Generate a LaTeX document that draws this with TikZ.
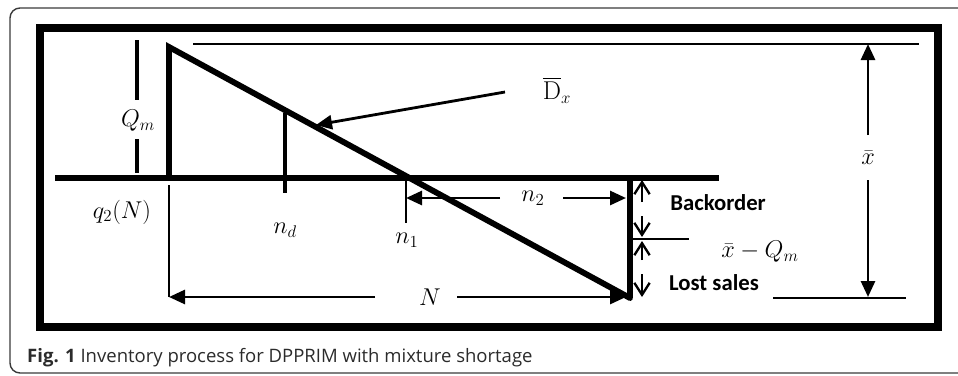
\documentclass[tikz,border=0pt]{standalone}
\usepackage{fontspec}
\usepackage{amsmath}
\usetikzlibrary{arrows.meta}
\newfontfamily\capfont{Open Sans}
\newfontfamily\tagfont{Carlito}
\definecolor{FrameGray}{HTML}{3A3A3A}
\definecolor{CapText}{HTML}{2B2B2B}

\begin{document}
\begin{tikzpicture}[
    x=0.3mm, y=-0.3mm,
    frame/.style={draw=FrameGray, line width=1.2pt, rounded corners=3mm},
    box/.style={line width=6pt},
    heavy/.style={line width=5pt},
    thin/.style={line width=1.8pt},
    arrow/.style={-{Triangle[length=4.8mm,width=4.2mm]}, line width=2.4pt},
    barb/.style={-{Straight Barb[length=3.6mm,width=4.6mm]}, line width=2pt},
    lbl/.style={font=\fontsize{22}{26}\selectfont, inner sep=2pt},
    tag/.style={font=\tagfont\bfseries\fontsize{19.4}{22}\selectfont, inner sep=0pt}
  ]
    \useasboundingbox (0,0) rectangle (958,375);
    \clip (0,0) rectangle (958,375);

    % frame and caption
    \draw[frame] (1000,8) -- (10,8) -- (10,373) -- (1000,373);
    \draw[box] (40,28) rectangle (938,327);
    \node[anchor=west, inner sep=0pt, text=CapText, font=\capfont\fontsize{15.8}{18}\selectfont] (cap) at (27,358) {\textbf{Fig. 1} Inventory process for DPPRIM with mixture shortage};

    % inventory curve
    \coordinate (peak) at (169,47);
    \coordinate (orig) at (169,178);
    \coordinate (axisL) at (55,178);
    \coordinate (axisR) at (719,178);
    \coordinate (low) at (630,298);
    \coordinate (lowtop) at (630,178);
    \draw[heavy] (axisL) -- (axisR);
    \draw[heavy, line cap=round] (orig) -- (peak) -- (low);
    \draw[heavy] (lowtop) -- (low);
    \draw[heavy, line width=3.4pt] (285,113) coordinate (ndtop) -- (285,193) coordinate (ndbot);

    % levels
    \coordinate (topL) at (193,44);
    \coordinate (topR) at (919,44);
    \coordinate (botL) at (773,298);
    \coordinate (botR) at (906,298);
    \draw[thin] (topL) -- (topR);
    \draw[thin] (botL) -- (botR);

    % Q_m
    \node[lbl] (qm) at (138,121) {$Q_m$};
    \draw[line width=3.4pt] (137,40) -- (137,100);
    \draw[line width=3.4pt] (137,139) -- (137,173);

    % q_2(N), n_d, n_1
    \node[lbl] (q2) at (122,212) {$q_2(N)$};
    \node[lbl] (nd) at (285,230) {$n_d$};
    \node[lbl] (n1) at (407,240) {$n_1$};
    \draw[thin] (169,185) coordinate (q2top) -- (169,297) coordinate (q2bot);
    \draw[thin] (406,178) coordinate (n1top) -- (406,223) coordinate (n1bot);

    % demand line label
    \node[lbl] (dx) at (557,90) {$\overline{\mathrm{D}}_x$};
    \coordinate (dxtail) at (505,92);
    \coordinate (dxhead) at (316,125);
    \draw[arrow] (dxtail) -- (dxhead);

    % n_2
    \node[lbl] (n2) at (533,198) {$n_2$};
    \draw[arrow] (500,198) -- (n1top |- n2);
    \draw[arrow] (563,198) -- (626,198);

    % N
    \node[lbl] (bigN) at (430,297) {$N$};
    \draw[arrow] (375,297) -- (q2bot);
    \draw[arrow] (457,297) -- (626,297);

    % x bar
    \node[lbl] (xb) at (868,158) {$\bar{x}$};
    \draw[arrow] (868,135) -- (868,44);
    \draw[arrow] (868,180) -- (868,297);

    % backorder / lost sales
    \coordinate (split) at (630,239);
    \draw[thin] (split) -- (689,239);
    \draw[barb] (642,202) -- (642,180);
    \draw[barb] (642,216) -- (642,237);
    \draw[barb] (642,260) -- (642,241);
    \draw[barb] (642,274) -- (642,297);
    \node[tag] (back) at (718,203) {Backorder};
    \node[tag] (lost) at (714,283) {Lost sales};
    \node[lbl] (xq) at (760,252) {$\bar{x}-Q_m$};
  \end{tikzpicture}
\end{document}
